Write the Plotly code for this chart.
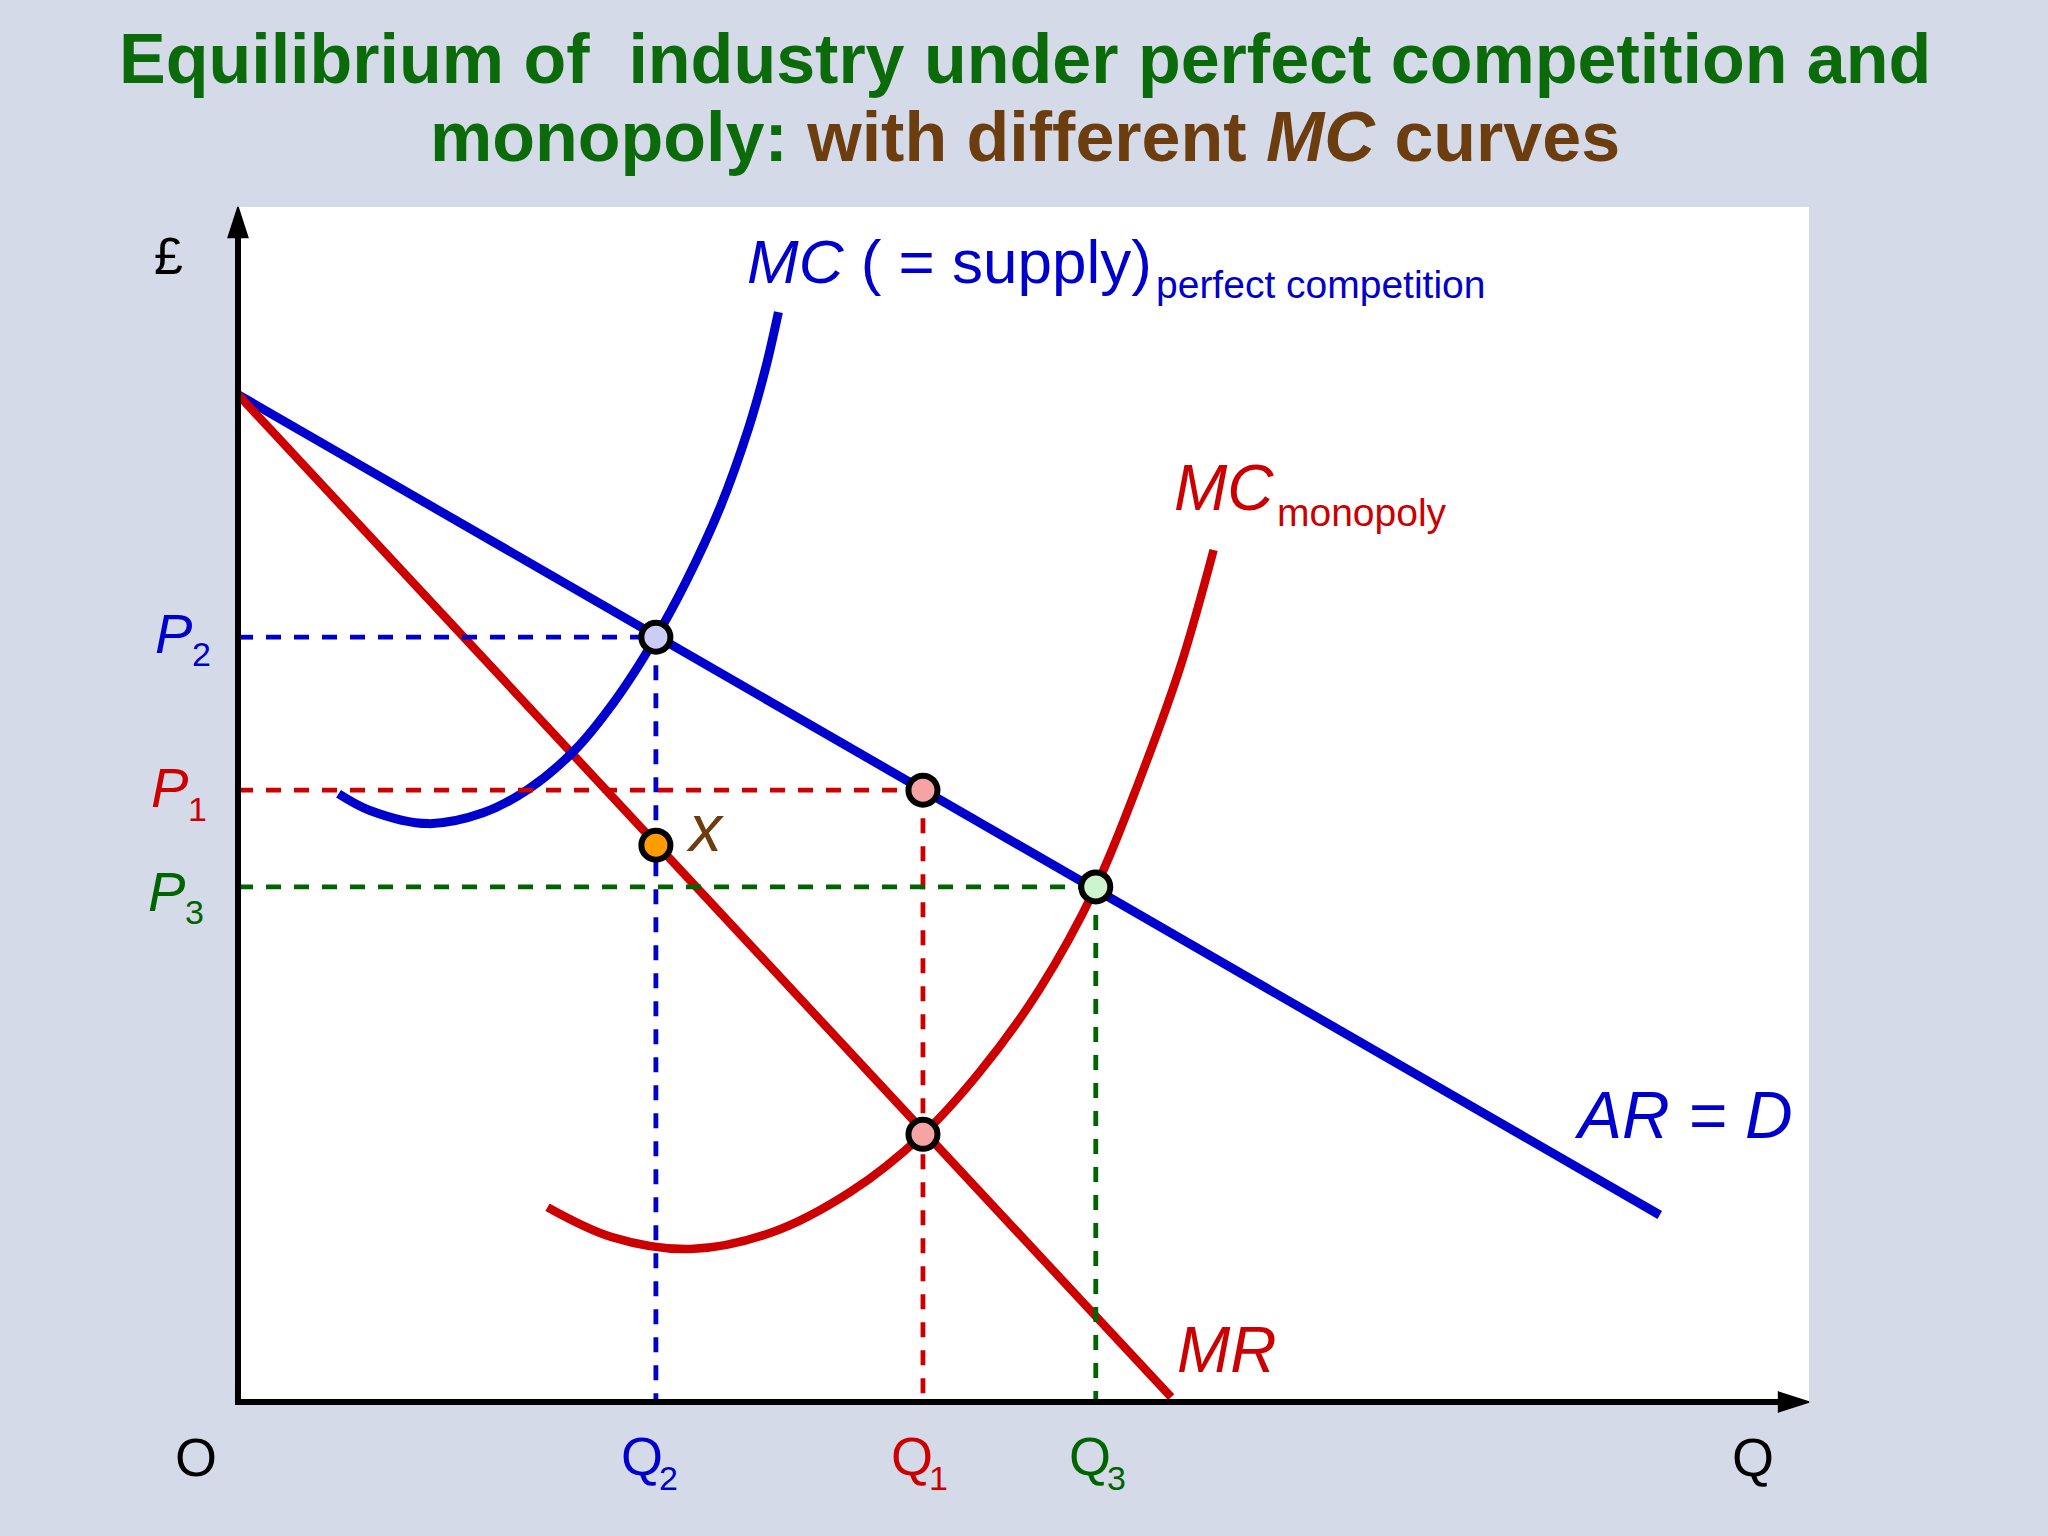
import plotly.graph_objects as go

# ---------------- data (axes 0-100 in both directions) ----------------
# Demand curve AR = D and marginal revenue MR (straight lines, end points)
ar_q = [0.0, 90.5]
ar_p = [84.3, 15.65]
mr_q = [0.0, 59.4]
mr_p = [84.3, 0.4]

# MC (= supply) under perfect competition
mc_pc_q = [6.4, 8.4, 12.1, 15.6, 18.5, 21.4, 24.0, 26.6, 28.5, 30.7, 32.5, 33.6, 34.4]
mc_pc_p = [50.9, 49.5, 48.4, 49.3, 51.3, 54.5, 58.7, 64.0, 68.6, 74.9, 81.5, 86.6, 91.2]

# MC under monopoly
mc_m_q = [19.7, 23.8, 28.8, 34.0, 39.0, 43.6, 47.2, 51.0, 54.6, 57.4, 60.0, 62.1]
mc_m_p = [16.3, 13.8, 12.8, 14.2, 17.6, 22.4, 27.6, 34.5, 43.1, 52.1, 61.6, 71.3]

# equilibrium quantities and prices
Q2, Q1, Q3 = 26.6, 43.6, 54.6
P2, P1, P3 = 64.0, 51.2, 43.1
X_P = 46.6        # MR at Q2 (point x)
MRMC_P = 22.4     # MR = MC(monopoly) at Q1

# axis extent
Q_MAX, P_MAX = 100, 100

# ---------------- style ----------------
BLUE = "#0000CC"
RED = "#CC0000"
GREEN = "#006400"
GREEN_T = "#0B6B0B"
BROWN = "#6B3D0F"
BG = "#D5DAE8"
FONT = "Liberation Sans, Arial, sans-serif"

W, H = 2048, 1536
L, R, T, B = 238, 239, 207, 134
PW, PH = W - L - R, H - T - B


def fx(p):  # figure pixel -> paper x
    return (p - L) / PW


def fy(p):  # figure pixel -> paper y
    return (H - B - p) / PH


fig = go.Figure()

# curves
fig.add_trace(go.Scatter(x=ar_q, y=ar_p, mode="lines", line=dict(color=BLUE, width=9)))
fig.add_trace(go.Scatter(x=mr_q, y=mr_p, mode="lines", line=dict(color=RED, width=8.5)))
fig.add_trace(go.Scatter(x=mc_pc_q, y=mc_pc_p, mode="lines",
                         line=dict(color=BLUE, width=9, shape="spline", smoothing=1.0)))
fig.add_trace(go.Scatter(x=mc_m_q, y=mc_m_p, mode="lines",
                         line=dict(color=RED, width=8.5, shape="spline", smoothing=1.0)))

# dashed guide lines
DASH = "15px,13px"
for q, p, c in [(Q2, P2, BLUE), (Q1, P1, RED), (Q3, P3, GREEN)]:
    fig.add_trace(go.Scatter(x=[0, q], y=[p, p], mode="lines", line=dict(color=c, width=4.8, dash=DASH)))
    fig.add_trace(go.Scatter(x=[q, q], y=[p, 0], mode="lines", line=dict(color=c, width=4.8, dash=DASH)))

# axis lines (paper-referenced shapes so they are not clipped at the plot edge)
AX_W = 6
shapes = [
    dict(type="line", xref="paper", yref="paper", x0=0, x1=0, y0=-3 / PH, y1=1 - 20 / PH,
         line=dict(color="black", width=AX_W), layer="above"),
    dict(type="line", xref="paper", yref="paper", x0=-3 / PW, x1=1 - 20 / PW, y0=0, y1=0,
         line=dict(color="black", width=AX_W), layer="above"),
]
# arrowheads at the axis ends
fig.add_trace(go.Scatter(x=[0, Q_MAX], y=[P_MAX, 0], mode="markers",
                         marker=dict(symbol="arrow", size=32, angle=[0, 90], color="black",
                                     line=dict(width=1.5, color="black"))))

# equilibrium points
pt_q = [Q2, Q1, Q3, Q1, Q2]
pt_p = [P2, P1, P3, MRMC_P, X_P]
pt_c = ["#CCCCF5", "#F5A3A3", "#CCF5CC", "#F5A3A3", "#FF9C00"]
fig.add_trace(go.Scatter(x=pt_q, y=pt_p, mode="markers",
                         marker=dict(size=29, color=pt_c, line=dict(color="black", width=6))))

fig.update_traces(cliponaxis=False, hoverinfo="skip", showlegend=False)

ann = []


def text(s, xp, yp, size, color, xanchor="left", italic=False):
    if italic:
        s = "<i>" + s + "</i>"
    ann.append(dict(text=s, x=fx(xp), y=fy(yp), xref="paper", yref="paper",
                    xanchor=xanchor, yanchor="middle", showarrow=False,
                    font=dict(family=FONT, size=size, color=color)))


# title
text("<b>Equilibrium of  industry under perfect competition and</b>", 1025, 59, 70, GREEN_T, "center")
text("<b>monopoly: <span style='color:%s'>with different <i>MC</i> curves</span></b>" % BROWN,
     1025, 137, 70, GREEN_T, "center")

# curve labels
text("<i>MC</i> ( = supply)", 745, 261, 62, BLUE)
text("perfect competition", 1154, 284, 39, BLUE)
text("MC", 1172, 488, 64, RED, italic=True)
text("monopoly", 1275, 512, 39, RED)
text("AR = D", 1572, 1115, 66, BLUE, italic=True)
text("MR", 1175, 1350, 64, RED, italic=True)
text("x", 684, 828, 66, BROWN, italic=True)

# axis labels
text("£", 168, 256, 52, "black", "center")
text("O", 196, 1457, 54, "black", "center")
text("Q", 1753, 1457, 54, "black", "center")

# price labels
for (xp, yp, sub, c) in [(153, 633, "2", BLUE), (149, 788, "1", RED), (146, 891, "3", GREEN)]:
    text("P", xp, yp, 56, c, italic=True)
    text(sub, xp + 37, yp + 21, 34, c)

# quantity labels
for (xp, sub, c) in [(619, "2", BLUE), (889, "1", RED), (1067, "3", GREEN)]:
    text("Q", xp, 1456, 54, c)
    text(sub, xp + 38, 1478, 34, c)

fig.update_layout(
    width=W, height=H,
    margin=dict(l=L, r=R, t=T, b=B, pad=0),
    paper_bgcolor=BG, plot_bgcolor="white",
    xaxis=dict(range=[0, Q_MAX], visible=False, fixedrange=True),
    yaxis=dict(range=[0, P_MAX], visible=False, fixedrange=True),
    annotations=ann,
    shapes=shapes,
    hovermode=False,
)

fig.write_html("out.html", config={"displayModeBar": False},
               post_script="document.body.style.margin='0';document.body.style.overflow='hidden';")
